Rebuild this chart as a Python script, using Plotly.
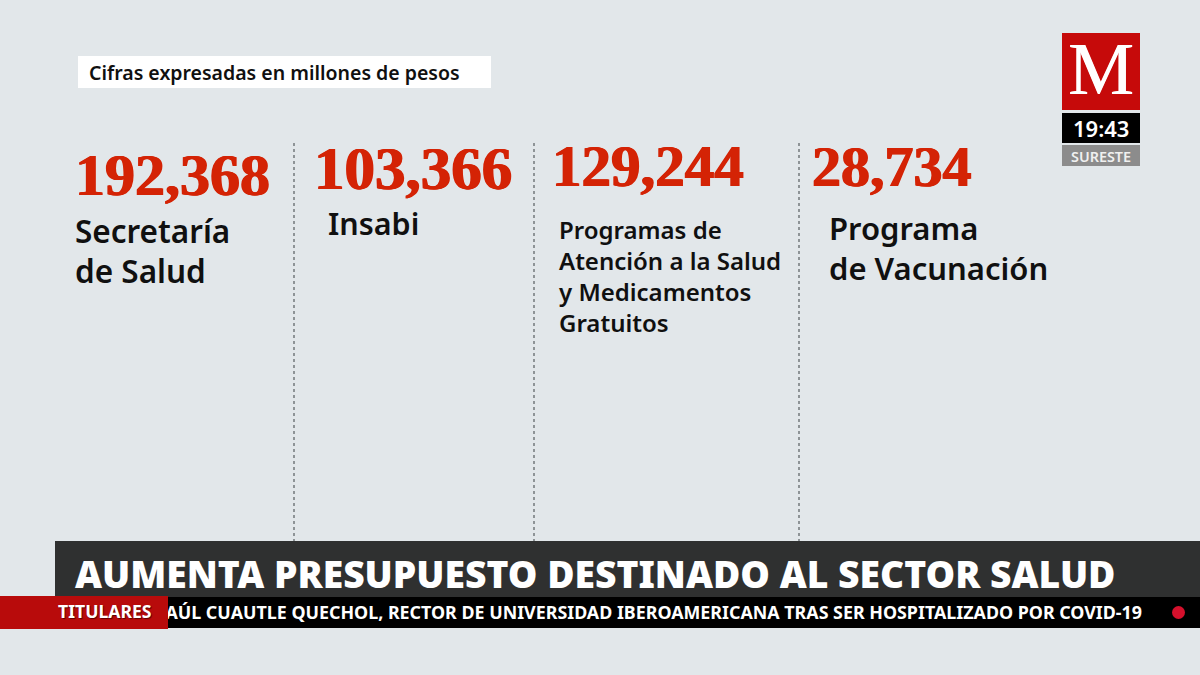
import plotly.graph_objects as go

# Cifras del sector salud
cifras = ["192,368", "103,366", "129,244", "28,734"]
etiquetas = [
    "Secretaría<br>de Salud",
    "Insabi",
    "Programas de<br>Atención a la Salud<br>y Medicamentos<br>Gratuitos",
    "Programa<br>de Vacunación",
]
subtitulo = "Cifras expresadas en millones de pesos"
titular = "AUMENTA PRESUPUESTO DESTINADO AL SECTOR SALUD"
cintillo = "AÚL CUAUTLE QUECHOL, RECTOR DE UNIVERSIDAD IBEROAMERICANA TRAS SER HOSPITALIZADO POR COVID-19"
seccion = "TITULARES"
hora = "19:43"
region = "SURESTE"

# Layout positions, in pixels of the 1200x675 frame
cifra_x = [73, 312, 550, 810]
cifra_y = [175, 168, 166, 166]
cifra_size = [60, 61, 59, 58]
etiqueta_x = [73, 326, 557, 827]
etiqueta_y = [250, 223, 276, 248]
etiqueta_size = [31.5, 30.5, 24, 31]
etiqueta_alto = [40, 40, 31, 40]
divisor_x = [294, 534, 799]

SERIF = "Liberation Serif"
SANS = "Noto Sans"
NEGRO = "#101010"
ROJO = "#d42305"


def caja(x0, y0, x1, y1, color, layer="below"):
    return dict(type="rect", xref="x", yref="y", x0=x0, y0=y0, x1=x1, y1=y1,
                fillcolor=color, line_width=0, layer=layer)


shapes = [
    caja(78, 56, 491, 88, "#ffffff"),
    caja(1062, 33, 1140, 110, "#c60a0a"),
    caja(1062, 113, 1140, 143, "#000000"),
    caja(1062, 145, 1140, 166, "#8c8c8c"),
]
for x in divisor_x:
    shapes.append(dict(type="line", xref="x", yref="y", x0=x, x1=x, y0=143, y1=552,
                       line=dict(color="#62676a", width=1.3, dash="3px,3px"), layer="below"))
shapes += [
    caja(55, 541, 1200, 597, "#2f3030", "above"),
    caja(168, 597, 1200, 628, "#000000", "below"),
    caja(0, 596, 168, 629, "#b80b0b", "above"),
    dict(type="circle", xref="x", yref="y", x0=1172, x1=1185, y0=606, y1=619,
         fillcolor="#d5102c", line_width=0, layer="above"),
]

anotaciones = [
    dict(x=87, y=72, text=subtitulo, xanchor="left",
         font=dict(family=SANS, size=19.5, color=NEGRO, weight=600)),
    dict(x=1101, y=69, text="M", xanchor="center",
         font=dict(family=SERIF, size=74, color="#ffffff", shadow="0.6px 0 0 #ffffff")),
    dict(x=1101, y=128, text=hora, xanchor="center",
         font=dict(family=SANS, size=22, color="#ffffff", weight=600)),
    dict(x=1101, y=156, text=region, xanchor="center",
         font=dict(family=SANS, size=14.4, color="#f0f0f0", weight=600)),
    dict(x=73, y=573, text=titular, xanchor="left",
         font=dict(family=SANS, size=37.25, color="#ffffff", weight=900)),
    dict(x=56, y=611, text=seccion, xanchor="left",
         font=dict(family=SANS, size=17.6, color="#ffffff", weight=700,
                   shadow="1px 1px 1px #5a0000")),
]
for cifra, x, y, size in zip(cifras, cifra_x, cifra_y, cifra_size):
    # thin same-colour shadow fattens the strokes toward the heavy display serif
    anotaciones.append(dict(x=x, y=y, text=cifra, xanchor="left",
                            font=dict(family=SERIF, size=size, color=ROJO, weight=700,
                                      shadow=f"0.7px 0 0 {ROJO}, -0.7px 0 0 {ROJO}")))
for texto, x, y, size, alto in zip(etiquetas, etiqueta_x, etiqueta_y, etiqueta_size, etiqueta_alto):
    lineas = texto.split("<br>")
    for i, linea in enumerate(lineas):
        anotaciones.append(dict(x=x, y=y - (len(lineas) - 1) * alto / 2 + i * alto, text=linea,
                                xanchor="left",
                                font=dict(family=SANS, size=size, color=NEGRO, weight=600)))
for a in anotaciones:
    a.update(xref="x", yref="y", showarrow=False, yanchor="middle", align="left")

# The ticker is a trace so the red tab (a shape above traces) cuts its start
ticker = go.Scatter(x=[1142], y=[614.5], mode="text", text=[cintillo],
                    textposition="middle left", hoverinfo="skip", cliponaxis=False,
                    textfont=dict(family=SANS, size=17.85, color="#ffffff", weight=700))

fig = go.Figure(data=[ticker])
fig.update_layout(
    width=1200, height=675,
    margin=dict(l=0, r=0, t=0, b=0),
    paper_bgcolor="#e2e7ea", plot_bgcolor="#e2e7ea",
    showlegend=False,
    xaxis=dict(range=[0, 1200], visible=False, fixedrange=True),
    yaxis=dict(range=[675, 0], visible=False, fixedrange=True),
    shapes=shapes,
    annotations=anotaciones,
)

# Drop the browser's default 8px body margin so the frame fills the window
fig.write_html("out.html", config=dict(displayModeBar=False),
               post_script="document.body.style.margin='0';document.body.style.overflow='hidden';")
